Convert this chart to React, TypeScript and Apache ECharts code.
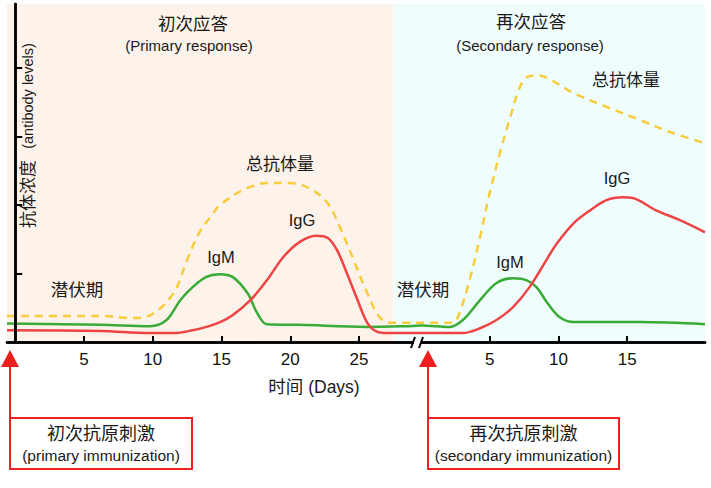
import React, { useEffect, useRef } from "react";
import * as echarts from "echarts";

// x axis is one continuous day scale; the secondary phase starts at secondaryOffset
const secondaryOffset = 29.5;
const xMin = -0.6;
const xMax = 50.16;
const phaseSplit = 27.5;
const primaryTicks = [5, 10, 15, 20, 25];
const secondaryTicks = [5, 10, 15];
const levelTicks = [1, 2, 3, 4];
const levelMax = 4.93;

// [day, level]
const totalPrimary = [
  [-0.6, 0.38], [6.2, 0.38], [8.4, 0.35], [9.8, 0.39], [11.5, 0.71], [12.5, 1.2], [13.4, 1.6],
  [14.4, 1.88], [14.9, 2.0], [16.6, 2.22], [18.3, 2.32], [20.0, 2.32], [21.4, 2.24], [22.7, 2.03],
  [23.6, 1.68], [24.6, 1.2], [25.6, 0.71], [26.5, 0.36], [27.3, 0.28], [28.4, 0.28],
];
const totalSecondary = [
  [0, 0.28], [2.3, 0.28], [2.8, 0.42], [3.6, 0.95], [4.3, 1.53], [5.0, 2.17], [5.75, 2.76],
  [6.5, 3.28], [7.2, 3.72], [7.7, 3.86], [8.4, 3.89], [9.2, 3.85], [11.1, 3.63], [13.5, 3.43],
  [15.9, 3.24], [18.3, 3.05], [20.66, 2.9],
];
const igmPrimary = [
  [-0.6, 0.27], [6.2, 0.25], [9.8, 0.23], [11.0, 0.32], [12.0, 0.61], [12.9, 0.8], [13.9, 0.95],
  [14.9, 0.99], [15.8, 0.95], [16.9, 0.71], [17.6, 0.42], [18.3, 0.26], [20.7, 0.25], [25.6, 0.22],
  [28.4, 0.23],
];
const igmSecondary = [
  [0, 0.24], [2.1, 0.22], [3.05, 0.32], [4.3, 0.61], [5.5, 0.86], [6.7, 0.93], [7.7, 0.9],
  [8.4, 0.8], [9.2, 0.57], [10.1, 0.36], [11.1, 0.29], [15.9, 0.29], [20.66, 0.26],
];
const iggPrimary = [
  [-0.6, 0.17], [6.2, 0.16], [9.8, 0.13], [11.5, 0.13], [12.9, 0.17], [13.9, 0.22], [14.9, 0.29],
  [15.8, 0.39], [17.1, 0.61], [18.3, 0.9], [19.5, 1.24], [20.7, 1.46], [21.9, 1.55], [22.7, 1.52],
  [23.4, 1.34], [24.1, 1.01], [24.9, 0.61], [25.6, 0.28], [26.3, 0.15], [27.0, 0.13], [28.4, 0.13],
];
const iggSecondary = [
  [0, 0.13], [3.05, 0.13], [4.3, 0.2], [5.5, 0.32], [6.7, 0.51], [7.9, 0.8], [9.2, 1.22],
  [9.9, 1.44], [11.1, 1.73], [12.3, 1.92], [13.5, 2.07], [14.7, 2.11], [15.4, 2.1], [17.1, 1.92],
  [18.8, 1.78], [20.66, 1.6],
];

const FONT = '"Liberation Sans", Arial, "Noto Sans CJK SC", sans-serif';
const TXT = "#1a1a1a";
const RED = "#ee1f1f";

export default function App() {
  const ref = useRef<HTMLDivElement>(null);
  useEffect(() => {
    const chart = echarts.init(ref.current!, null, { renderer: "svg" });
    const join = (p: number[][], s: number[][]) => [
      ...p.map(([d, v]) => [d, v]),
      ...s.map(([d, v]) => [d + secondaryOffset, v]),
    ];
    const xTicks = [...primaryTicks, ...secondaryTicks.map((d) => d + secondaryOffset)];
    const text = (t: string, x: number, y: number, size: number, extra: any = {}) => ({
      type: "text",
      x,
      y,
      z: 100,
      ...extra,
      style: { text: t, fontSize: size, fontFamily: FONT, fill: TXT, align: "center", verticalAlign: "middle" },
    });
    const arrowBox = (ax: number, w: number, cn: string, en: string) => [
      { type: "polygon", z: 100, shape: { points: [[ax, 350], [ax - 9, 367], [ax + 9, 367]] }, style: { fill: RED } },
      { type: "line", z: 100, shape: { x1: ax, y1: 366, x2: ax, y2: 418 }, style: { stroke: RED, lineWidth: 2 } },
      { type: "rect", z: 100, shape: { x: ax, y: 418, width: w, height: 51 }, style: { fill: "#fff", stroke: RED, lineWidth: 2 } },
      text(cn, ax + w / 2, 434, 18),
      text(en, ax + w / 2, 455, 15.5),
    ];
    const lineSeries = (name: string, data: number[][], color: string, dashed = false) => ({
      type: "line",
      name,
      data,
      smooth: 0.35,
      showSymbol: false,
      symbol: "none",
      z: 3,
      lineStyle: { color, width: 2.5, type: dashed ? [8, 6] : "solid" },
    });
    chart.setOption({
      animation: false,
      grid: { left: 7, right: 6, top: 4, bottom: 146, containLabel: false },
      xAxis: [
        {
          type: "value",
          min: xMin,
          max: xMax,
          z: 10,
          axisLine: { show: true, lineStyle: { color: "#000", width: 2.5 } },
          axisTick: { show: true, inside: true, length: 6, customValues: xTicks, lineStyle: { color: "#000", width: 2 } },
          axisLabel: {
            customValues: xTicks,
            margin: 9,
            fontSize: 17,
            color: "#111",
            fontFamily: FONT,
            formatter: (v: number) => String(Math.round(v > secondaryOffset ? v - secondaryOffset : v)),
          },
          splitLine: { show: false },
        },
        {
          type: "value",
          position: "top",
          min: xMin,
          max: xMax,
          z: 10,
          axisLine: { show: true, lineStyle: { color: "#000", width: 2.5 } },
          axisTick: { show: false },
          axisLabel: { show: false },
          splitLine: { show: false },
        },
      ],
      yAxis: [
        {
          type: "value",
          min: 0,
          max: levelMax,
          z: 10,
          axisLine: { show: true, lineStyle: { color: "#000", width: 2.5 } },
          axisTick: { show: true, inside: true, length: 7, customValues: levelTicks, lineStyle: { color: "#000", width: 2 } },
          axisLabel: { show: false },
          splitLine: { show: false },
        },
        {
          type: "value",
          position: "right",
          min: 0,
          max: levelMax,
          z: 10,
          axisLine: { show: true, lineStyle: { color: "#000", width: 2.5 } },
          axisTick: { show: false },
          axisLabel: { show: false },
          splitLine: { show: false },
        },
      ],
      series: [
        {
          type: "line",
          name: "phases",
          data: [[xMin, 0]],
          symbol: "none",
          lineStyle: { opacity: 0 },
          silent: true,
          z: 1,
          markArea: {
            silent: true,
            data: [
              [{ xAxis: xMin, itemStyle: { color: "#fef3ea" } }, { xAxis: phaseSplit }],
              [{ xAxis: phaseSplit, itemStyle: { color: "#effdfd" } }, { xAxis: xMax }],
            ],
          },
        },
        lineSeries("IgM", join(igmPrimary, igmSecondary), "#3aab37"),
        lineSeries("IgG", join(iggPrimary, iggSecondary), "#ef4444"),
        lineSeries("总抗体量", join(totalPrimary, totalSecondary), "#f7cd3c", true),
      ],
      graphic: [
        // axis break mark
        { type: "rect", z: 101, shape: { x: 414, y: 339, width: 7, height: 6 }, style: { fill: "#fff" } },
        { type: "line", z: 101, shape: { x1: 411, y1: 348, x2: 415, y2: 337 }, style: { stroke: "#000", lineWidth: 2 } },
        { type: "line", z: 101, shape: { x1: 419, y1: 348, x2: 423, y2: 337 }, style: { stroke: "#000", lineWidth: 2 } },
        text("初次应答", 193, 24, 17.5),
        text("(Primary response)", 189, 45, 15),
        text("再次应答", 531, 22, 17.5),
        text("(Secondary response)", 530, 45, 15),
        text("潜伏期", 77, 290, 17.5),
        text("潜伏期", 423, 290, 17.5),
        text("IgM", 221, 257, 16.5),
        text("IgG", 302, 220, 16.5),
        text("总抗体量", 280, 164, 17),
        text("IgM", 510, 262, 16.5),
        text("IgG", 617, 178, 16.5),
        text("总抗体量", 626, 80, 17),
        text("时间 (Days)", 314, 387, 17.5),
        text("抗体浓度", 28, 194, 17, { rotation: Math.PI / 2 }),
        text("(antibody levels)", 28, 96, 14.5, { rotation: Math.PI / 2 }),
        ...arrowBox(10, 182, "初次抗原刺激", "(primary immunization)"),
        ...arrowBox(428, 191, "再次抗原刺激", "(secondary immunization)"),
      ],
    });
    return () => chart.dispose();
  }, []);
  return (
    <div
      ref={ref}
      style={{ position: "fixed", left: 0, top: 0, width: 711, height: 488, background: "#fff" }}
    />
  );
}
